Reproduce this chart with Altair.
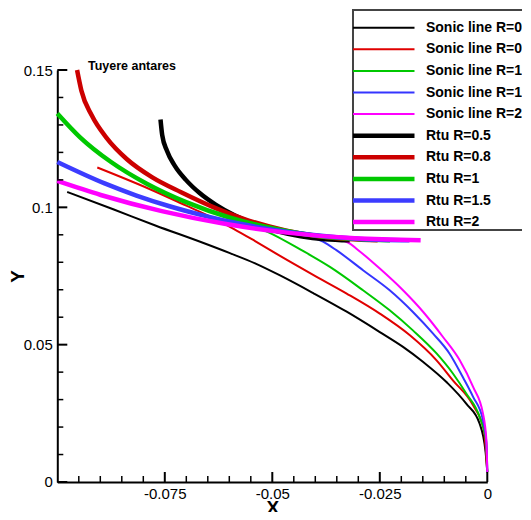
import altair as alt
import pandas as pd

# ---------------- data ----------------
series_names = [
    "Sonic line R=0.5", "Sonic line R=0.8", "Sonic line R=1", "Sonic line R=1.5", "Sonic line R=2",
    "Rtu R=0.5", "Rtu R=0.8", "Rtu R=1", "Rtu R=1.5", "Rtu R=2",
]
series_colors = ["#000000", "#e00000", "#00c800", "#3535ff", "#ff00ff",
                 "#000000", "#cc0000", "#00c800", "#3c3cff", "#ff00ff"]
series_widths = [2, 2, 2, 2, 2, 4.5, 4.5, 4.5, 4.5, 4.5]

sonic05_x = [-0.0977, -0.0870, -0.0772, -0.0660, -0.0600, -0.0540, -0.0482, -0.0405, -0.0327, -0.0250,
             -0.0196, -0.0149, -0.0095, -0.0049, -0.0018, -0.0004, 0.0]
sonic05_y = [0.1056, 0.0993, 0.0934, 0.0870, 0.0834, 0.0796, 0.0752, 0.0688, 0.0620, 0.0546,
             0.0492, 0.0437, 0.0364, 0.0285, 0.0213, 0.0110, 0.0036]

sonic08_x = [-0.0907, -0.0783, -0.0700, -0.0640, -0.0590, -0.0540, -0.0482, -0.0405, -0.0327, -0.0250,
             -0.0180, -0.0118, -0.0080, -0.0033, -0.0008, 0.0]
sonic08_y = [0.1145, 0.1065, 0.1006, 0.0963, 0.0922, 0.0877, 0.0823, 0.0754, 0.0686, 0.0613,
             0.0534, 0.0443, 0.0370, 0.0279, 0.0190, 0.0036]

sonic1_x = [-0.0580, -0.0510, -0.0432, -0.0366, -0.0289, -0.0227, -0.0173, -0.0118, -0.0080, -0.0049,
            -0.0018, -0.0003, 0.0]
sonic1_y = [0.0950, 0.0910, 0.0844, 0.0783, 0.0698, 0.0625, 0.0552, 0.0468, 0.0395, 0.0322,
            0.0237, 0.0150, 0.0036]

sonic15_x = [-0.0450, -0.0382, -0.0351, -0.0289, -0.0227, -0.0173, -0.0126, -0.0088, -0.0057, -0.0033,
             -0.0010, -0.0002, 0.0]
sonic15_y = [0.0905, 0.0875, 0.0844, 0.0771, 0.0698, 0.0619, 0.0540, 0.0468, 0.0382, 0.0310,
             0.0225, 0.0140, 0.0036]

sonic2_x = [-0.0370, -0.0324, -0.0300, -0.0250, -0.0196, -0.0149, -0.0103, -0.0064, -0.0033, -0.0010,
            -0.0002, 0.0]
sonic2_y = [0.0888, 0.0872, 0.0844, 0.0777, 0.0698, 0.0619, 0.0528, 0.0443, 0.0346, 0.0249,
            0.0150, 0.0036]

rtu05_x = [-0.0760, -0.0756, -0.0745, -0.0727, -0.0701, -0.0669, -0.0631, -0.0588, -0.0540, -0.0488,
           -0.0434, -0.0377, -0.0320]
rtu05_y = [0.1320, 0.1263, 0.1206, 0.1152, 0.1100, 0.1052, 0.1009, 0.0971, 0.0939, 0.0913,
           0.0895, 0.0884, 0.0880]

rtu08_x = [-0.0954, -0.0944, -0.0920, -0.0885, -0.0838, -0.0780, -0.0712, -0.0636, -0.0555, -0.0467,
           -0.0377, -0.0255]
rtu08_y = [0.1500, 0.1425, 0.1335, 0.1252, 0.1175, 0.1110, 0.1055, 0.1000, 0.0952, 0.0915,
           0.0892, 0.0880]

rtu1_x = [-0.1000, -0.0947, -0.0875, -0.0792, -0.0699, -0.0598, -0.0491, -0.0379, -0.0226]
rtu1_y = [0.1342, 0.1255, 0.1165, 0.1086, 0.1018, 0.0962, 0.0921, 0.0893, 0.0880]

rtu15_x = [-0.1000, -0.0890, -0.0816, -0.0739, -0.0659, -0.0578, -0.0495, -0.0410, -0.0296, -0.0181]
rtu15_y = [0.1165, 0.1087, 0.1043, 0.1004, 0.0970, 0.0941, 0.0918, 0.0900, 0.0885, 0.0880]

rtu2_x = [-0.1000, -0.0899, -0.0757, -0.0611, -0.0461, -0.0308, -0.0155]
rtu2_y = [0.1096, 0.1045, 0.0986, 0.0940, 0.0907, 0.0887, 0.0880]

x_major_ticks = [-0.075, -0.05, -0.025, 0.0]
x_minor_ticks = [-0.095, -0.09, -0.085, -0.08, -0.07, -0.065, -0.06, -0.055,
                 -0.045, -0.04, -0.035, -0.03, -0.02, -0.015, -0.01, -0.005]
y_major_ticks = [0.0, 0.05, 0.1, 0.15]
y_minor_ticks = [0.01, 0.02, 0.03, 0.04, 0.06, 0.07, 0.08, 0.09, 0.11, 0.12, 0.13, 0.14]

# ---------------- build table ----------------
all_x = [sonic05_x, sonic08_x, sonic1_x, sonic15_x, sonic2_x, rtu05_x, rtu08_x, rtu1_x, rtu15_x, rtu2_x]
all_y = [sonic05_y, sonic08_y, sonic1_y, sonic15_y, sonic2_y, rtu05_y, rtu08_y, rtu1_y, rtu15_y, rtu2_y]
rows = []
for name, xs, ys in zip(series_names, all_x, all_y):
    for xv, yv in zip(xs, ys):
        rows.append({"series": name, "x": xv, "y": yv})
df = pd.DataFrame(rows)

W, H = 430, 412
FONT = "Liberation Sans"

xscale = alt.Scale(domain=[-0.1, 0.0], nice=False, zero=False)
yscale = alt.Scale(domain=[0.0, 0.15], nice=False, zero=False)

xaxis = alt.Axis(values=x_major_ticks, labelExpr="toString(datum.value)", ticks=False, tickSize=0,
                 grid=False, domainColor="black", domainWidth=2, labelFont=FONT, labelFontSize=15,
                 labelColor="black", labelPadding=5, labelFlush=False, title="X", titleFont=FONT,
                 titleFontSize=19, titleFontWeight="bold", titleColor="black", titleY=32,
                 titleBaseline="alphabetic")
yaxis = alt.Axis(values=y_major_ticks, labelExpr="toString(datum.value)", ticks=False, tickSize=0,
                 grid=False, domainColor="black", domainWidth=2, labelFont=FONT, labelFontSize=15,
                 labelColor="black", labelPadding=5, labelFlush=False, title="Y", titleFont=FONT,
                 titleFontSize=19, titleFontWeight="bold", titleColor="black", titleX=-34,
                 titleBaseline="alphabetic")

legend = alt.Legend(title=" ", titleFontSize=7, titlePadding=3.7, orient="none", legendX=295.7, legendY=-60,
                    direction="vertical", labelFont=FONT, labelFontSize=14, labelFontWeight="bold",
                    labelColor="black", labelLimit=0, symbolType="stroke", symbolSize=3969,
                    labelOffset=9, symbolOffset=-4, padding=0, rowPadding=7.6, clipHeight=14,
                    strokeColor="#444444", fillColor="white")

color = alt.Color("series:N", sort=series_names,
                  scale=alt.Scale(domain=series_names, range=series_colors), legend=legend)
width_enc = alt.StrokeWidth("series:N", sort=series_names,
                            scale=alt.Scale(type="ordinal", domain=series_names, range=series_widths),
                            legend=legend)

layers = []
for name in series_names:
    layers.append(
        alt.Chart(df).transform_filter(alt.datum.series == name)
        .mark_line(interpolate="monotone", strokeJoin="round")
        .encode(x=alt.X("x:Q", scale=xscale, axis=xaxis),
                y=alt.Y("y:Q", scale=yscale, axis=yaxis),
                color=color, strokeWidth=width_enc)
    )

xmaj = alt.Chart(pd.DataFrame({"x": x_major_ticks})).mark_rule(color="black", strokeWidth=2).encode(
    x=alt.X("x:Q", scale=xscale, axis=xaxis), y=alt.value(H), y2=alt.value(H - 10))
xmin = alt.Chart(pd.DataFrame({"x": x_minor_ticks})).mark_rule(color="black", strokeWidth=1.5).encode(
    x=alt.X("x:Q", scale=xscale, axis=xaxis), y=alt.value(H), y2=alt.value(H - 6))
ymaj = alt.Chart(pd.DataFrame({"y": y_major_ticks})).mark_rule(color="black", strokeWidth=2).encode(
    y=alt.Y("y:Q", scale=yscale, axis=yaxis), x=alt.value(0), x2=alt.value(10))
ymin = alt.Chart(pd.DataFrame({"y": y_minor_ticks})).mark_rule(color="black", strokeWidth=1.5).encode(
    y=alt.Y("y:Q", scale=yscale, axis=yaxis), x=alt.value(0), x2=alt.value(6))

chart = alt.layer(*layers, xmaj, xmin, ymaj, ymin).properties(
    width=W, height=H,
    autosize=alt.AutoSizeParams(type="none"),
    padding={"left": 49.3, "top": 62, "right": 35, "bottom": 30},
    title=alt.TitleParams(text="Tuyere antares", anchor="start", frame="group", dx=30.7, dy=73.5, offset=0,
                          baseline="alphabetic", font=FONT, fontSize=12.5, fontWeight="bold",
                          color="black"),
    background="white",
).configure_view(stroke=None).configure_legend(strokeWidth=2)

chart.save("out.html", embed_options={"renderer": "svg", "actions": False})
